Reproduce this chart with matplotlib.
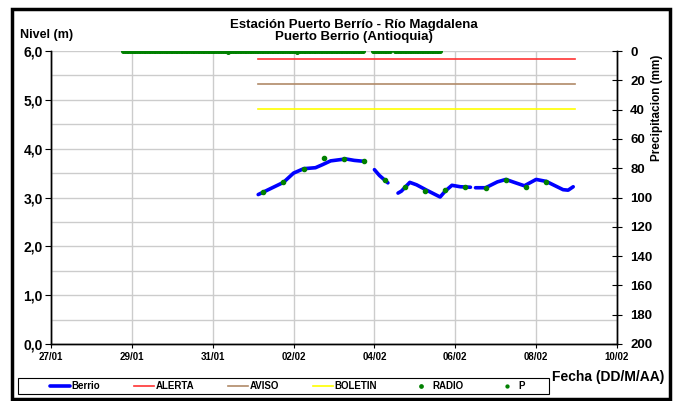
import matplotlib
matplotlib.use('Agg')
import matplotlib.pyplot as plt
import matplotlib.dates as mdates
from matplotlib.patches import Rectangle
from matplotlib.ticker import FuncFormatter, MultipleLocator
import numpy as np
import pandas as pd

plt.rcParams['font.family'] = ['Liberation Sans', 'DejaVu Sans']
plt.rcParams['font.weight'] = 'bold'

# Nivel Berrio (m), NaN = hueco en el registro
berrio_t = ['2021-02-01 03:00', '2021-02-01 18:00', '2021-02-02 00:00', '2021-02-02 06:00',
            '2021-02-02 13:00', '2021-02-02 17:00', '2021-02-02 22:00', '2021-02-03 07:00',
            '2021-02-03 12:00', '2021-02-03 18:00', '2021-02-03 21:00',
            '2021-02-04 00:00', '2021-02-04 03:00', '2021-02-04 08:00', '2021-02-04 11:00',
            '2021-02-04 14:00', '2021-02-04 16:00', '2021-02-04 21:00', '2021-02-05 01:00',
            '2021-02-05 07:00', '2021-02-05 15:00', '2021-02-05 18:00', '2021-02-05 22:00',
            '2021-02-06 03:00', '2021-02-06 09:00', '2021-02-06 10:30',
            '2021-02-06 12:00', '2021-02-06 18:00', '2021-02-07 01:00', '2021-02-07 06:00',
            '2021-02-07 11:00', '2021-02-07 17:00', '2021-02-08 00:00', '2021-02-08 06:00',
            '2021-02-08 16:00', '2021-02-08 19:00', '2021-02-08 22:00']
berrio_v = [3.06, 3.31, 3.50, 3.59, 3.61, 3.67, 3.75, 3.79, 3.76, 3.74, np.nan,
            3.57, 3.45, 3.30, np.nan,
            3.09, 3.13, 3.31, 3.26, 3.15, 3.01, 3.13, 3.25, 3.22, 3.21, np.nan,
            3.20, 3.20, 3.32, 3.37, 3.31, 3.24, 3.37, 3.33, 3.16, 3.15, 3.22]

# Lecturas RADIO (m)
radio_t = ['2021-02-01 06:00', '2021-02-01 18:00', '2021-02-02 06:00', '2021-02-02 18:00',
           '2021-02-03 06:00', '2021-02-03 18:00', '2021-02-04 06:00', '2021-02-04 18:00',
           '2021-02-05 06:00', '2021-02-05 18:00', '2021-02-06 06:00', '2021-02-06 18:00',
           '2021-02-07 06:00', '2021-02-07 18:00', '2021-02-08 06:00']
radio_v = [3.11, 3.31, 3.59, 3.81, 3.78, 3.74, 3.35, 3.21, 3.13, 3.16, 3.21, 3.20, 3.35, 3.22, 3.32]

# Umbrales (m)
umbral_t = ['2021-02-01 03:00', '2021-02-08 23:00']
alerta = 5.83
aviso = 5.32
boletin = 4.82

# Precipitacion horaria (mm): tramos con registro, todo 0 salvo dos lecturas
p_tramos = [('2021-01-28 19:00', '2021-02-03 17:00'),
            ('2021-02-03 23:00', '2021-02-04 09:00'),
            ('2021-02-04 12:00', '2021-02-05 15:00')]
p_lluvia = {'2021-01-31 09:00': 1.0, '2021-02-02 02:00': 1.0}

berrio_t = pd.to_datetime(berrio_t)
radio_t = pd.to_datetime(radio_t)
umbral_t = pd.to_datetime(umbral_t)
p_t = pd.DatetimeIndex(np.concatenate([pd.date_range(a, b, freq='h') for a, b in p_tramos]))
p_v = np.array([p_lluvia.get(t.strftime('%Y-%m-%d %H:%M'), 0.0) for t in p_t])

fig = plt.figure(figsize=(6.79, 4.01), dpi=100)
W, H = 679.0, 401.0
ax = fig.add_axes([51 / W, 1 - 344 / H, 566 / W, 293 / H])
ax2 = ax.twinx()

ax.plot(berrio_t, berrio_v, color='#0000ff', lw=2.6, solid_capstyle='round', zorder=3, label='Berrio')
ax.plot(umbral_t, [alerta] * 2, color='#ff3333', lw=1.2, zorder=2, label='ALERTA')
ax.plot(umbral_t, [aviso] * 2, color='#b08a68', lw=1.2, zorder=2, label='AVISO')
ax.plot(umbral_t, [boletin] * 2, color='#ffff00', lw=1.2, zorder=2, label='BOLETIN')
ax.plot(radio_t, radio_v, ls='none', marker='o', ms=3, color='#008000', zorder=4, label='RADIO')
ax2.plot(p_t, p_v, ls='none', marker='o', ms=2.6, color='#008000', zorder=4, label='P')

ax.set_xlim(pd.Timestamp('2021-01-27'), pd.Timestamp('2021-02-10'))
ax.set_ylim(0, 6)
ax2.set_ylim(200, 0)

ax.xaxis.set_major_locator(mdates.DayLocator(interval=2))
ax.xaxis.set_major_formatter(mdates.DateFormatter('%d/%m'))
ax.yaxis.set_major_locator(MultipleLocator(1))
ax.yaxis.set_minor_locator(MultipleLocator(0.5))
ax.yaxis.set_major_formatter(FuncFormatter(lambda v, p: f'{v:.1f}'.replace('.', ',')))
ax2.yaxis.set_major_locator(MultipleLocator(20))

ax.grid(True, which='both', axis='y', color='#cccccc', lw=1)
ax.grid(True, which='major', axis='x', color='#cccccc', lw=1)
ax.set_axisbelow(True)

for a in (ax, ax2):
    a.spines['top'].set_visible(False)
    for s in ('left', 'right', 'bottom'):
        a.spines[s].set_color('black')
        a.spines[s].set_linewidth(1)
ax.tick_params(axis='x', labelsize=7, length=3, pad=3)
ax.tick_params(axis='y', which='major', labelsize=10, length=4, pad=2)
ax.tick_params(axis='y', which='minor', length=0)
ax2.tick_params(axis='y', labelsize=9.5, direction='inout', length=7, pad=6)

fig.text(354 / W, 1 - 25 / H, 'Estación Puerto Berrío - Río Magdalena', ha='center', va='center', fontsize=9.5, weight='bold')
fig.text(354 / W, 1 - 37 / H, 'Puerto Berrio (Antioquia)', ha='center', va='center', fontsize=9.5, weight='bold')
fig.text(20 / W, 1 - 35 / H, 'Nivel (m)', ha='left', va='center', fontsize=9, weight='bold')
fig.text(657 / W, 1 - 108 / H, 'Precipitacion (mm)', ha='center', va='center', rotation=90, fontsize=8.5, weight='bold')
fig.text(552 / W, 1 - 377 / H, 'Fecha (DD/M/AA)', ha='left', va='center', fontsize=10, weight='bold')

h1, l1 = ax.get_legend_handles_labels()
h2, l2 = ax2.get_legend_handles_labels()
leg = fig.legend(h1 + h2, l1 + l2, loc='center left', ncol=6,
                 bbox_to_anchor=(50 / W, 1 - 386 / H), frameon=False,
                 prop={'size': 7, 'weight': 'bold'}, handlelength=2.05,
                 handletextpad=0.15, columnspacing=3.5, borderpad=0, borderaxespad=0,
                 markerscale=0.8)
fig.patches.append(Rectangle((18 / W, 1 - 394 / H), 531 / W, 16 / H, transform=fig.transFigure,
                             fill=False, lw=0.8, edgecolor='black'))

fig.patches.append(Rectangle((12 / W, 1 - 399 / H), 658 / W, 390 / H, transform=fig.transFigure,
                             fill=False, lw=2.5, edgecolor='black'))

fig.savefig('out.png', dpi=100)
